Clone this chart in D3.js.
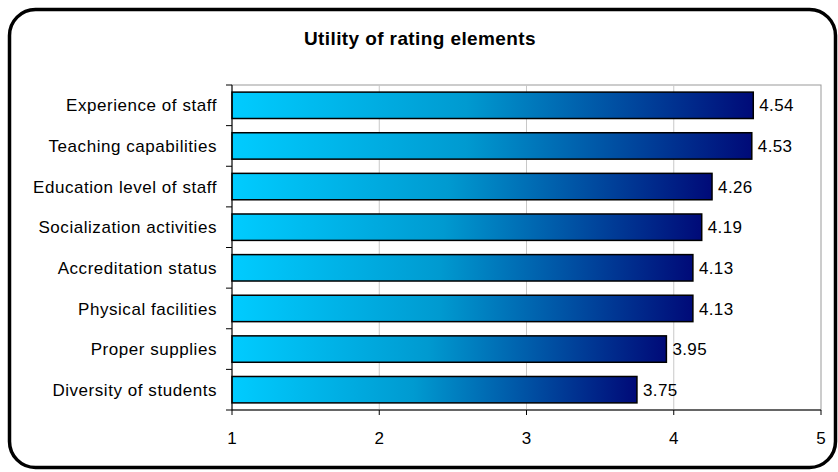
<!DOCTYPE html>
<html><head><meta charset="utf-8">
<script src="https://cdn.jsdelivr.net/npm/d3@7"></script>
<style>body{margin:0;background:#fff}svg{display:block;font-family:"Liberation Sans",Arial,sans-serif}</style>
</head><body><svg id="c" width="838" height="472"></svg>
<script>
const categories = ["Experience of staff","Teaching capabilities","Education level of staff","Socialization activities","Accreditation status","Physical facilities","Proper supplies","Diversity of students"];
const values = [4.54,4.53,4.26,4.19,4.13,4.13,3.95,3.75];
const xTicks = [1,2,3,4,5];
const title = "Utility of rating elements";

const svg = d3.select("#c");
const m = {left:232, right:821, top:85, bottom:410};

svg.append("rect").attr("x",9.5).attr("y",9.5).attr("width",826).attr("height",458)
  .attr("rx",26).attr("ry",26).attr("fill","#fff").attr("stroke","#000").attr("stroke-width",3.5);

const defs = svg.append("defs");
const g = defs.append("linearGradient").attr("id","bg").attr("x1","0").attr("x2","1").attr("y1","0").attr("y2","0");
g.append("stop").attr("offset","0").attr("stop-color","#00ccff");
g.append("stop").attr("offset","0.45").attr("stop-color","#009ad0");
g.append("stop").attr("offset","1").attr("stop-color","#000a78");

const x = d3.scaleLinear().domain([1,5]).range([m.left,m.right]);
const y = d3.scaleBand().domain(categories).range([m.top,m.bottom]).paddingInner(0.35).paddingOuter(0.175);

svg.append("rect").attr("x",m.left).attr("y",m.top).attr("width",m.right-m.left).attr("height",m.bottom-m.top)
  .attr("fill","none").attr("stroke","#999").attr("stroke-width",1);
svg.append("g").selectAll("line").data(xTicks.slice(1,-1)).join("line")
  .attr("x1",d=>x(d)).attr("x2",d=>x(d)).attr("y1",m.top).attr("y2",m.bottom)
  .attr("stroke","#c8c8c8").attr("stroke-width",1);

svg.append("g").selectAll("rect").data(values).join("rect")
  .attr("x",x(1)).attr("y",(d,i)=>y(categories[i]))
  .attr("width",d=>x(d)-x(1)).attr("height",y.bandwidth())
  .attr("fill","url(#bg)").attr("stroke","#000").attr("stroke-width",1.5);

svg.append("g").selectAll("text").data(values).join("text")
  .attr("x",d=>x(d)+6).attr("y",(d,i)=>y(categories[i])+y.bandwidth()/2)
  .attr("dy","0.36em").attr("font-size",17).attr("letter-spacing",0.4).text(d=>d.toFixed(2));

const ya = svg.append("g").attr("transform",`translate(${m.left},0)`);
ya.append("line").attr("x1",0).attr("x2",0).attr("y1",m.top).attr("y2",m.bottom).attr("stroke","#000").attr("stroke-width",1);
const yt = d3.range(categories.length+1).map(i=>m.top + i*(m.bottom-m.top)/categories.length);
ya.selectAll(".t").data(yt).join("line").attr("x1",-6).attr("x2",0).attr("y1",d=>d).attr("y2",d=>d).attr("stroke","#000");
ya.selectAll("text").data(categories).join("text")
  .attr("x",-15).attr("y",d=>y(d)+y.bandwidth()/2).attr("dy","0.36em")
  .attr("text-anchor","end").attr("font-size",17).attr("letter-spacing",0.55).text(d=>d);

const xa = svg.append("g").attr("transform",`translate(0,${m.bottom})`);
xa.append("line").attr("x1",m.left).attr("x2",m.right).attr("stroke","#000");
xa.selectAll("line.t").data(xTicks).join("line").attr("class","t")
  .attr("x1",d=>x(d)).attr("x2",d=>x(d)).attr("y1",0).attr("y2",5).attr("stroke","#000");
xa.selectAll("text").data(xTicks).join("text")
  .attr("x",d=>x(d)).attr("y",34).attr("text-anchor","middle").attr("font-size",17).text(d=>d);

svg.append("text").attr("x",420).attr("y",45).attr("text-anchor","middle")
  .attr("font-size",19).attr("font-weight","bold").attr("letter-spacing",0.4).text(title);
</script></body></html>
